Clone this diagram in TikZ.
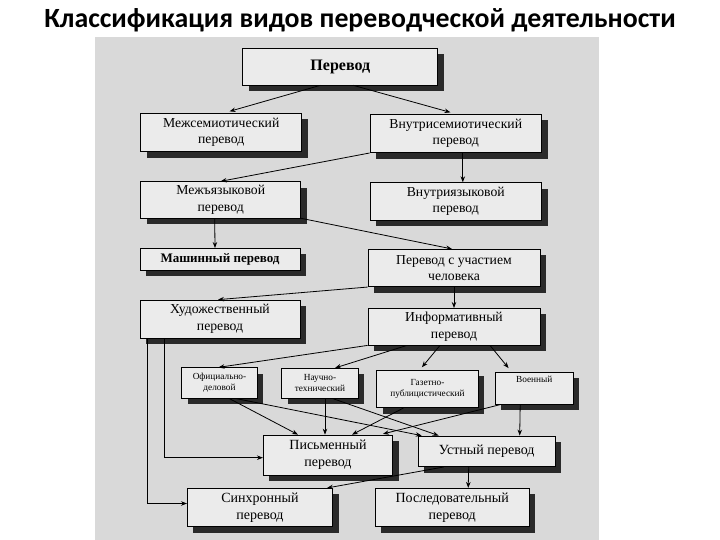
\documentclass[tikz,border=0pt]{standalone}
\usepackage{fontspec}
\setmainfont{Liberation Serif}
\newfontfamily\titlefont{Carlito}
\usetikzlibrary{shadows,arrows.meta,calc}
\definecolor{bggray}{HTML}{D9D9D9}
\definecolor{boxfill}{HTML}{EBEBEB}
\definecolor{shadowc}{HTML}{2A2A2A}
\begin{document}
\begin{tikzpicture}[x=1pt,y=-1pt,
  box/.style={draw=black, line width=0.7pt, fill=boxfill, align=center, inner sep=0pt,
    font=\fontsize{13.7}{16.5}\selectfont,
    drop shadow={shadow xshift=6pt, shadow yshift=-6pt, fill=shadowc, opacity=1}},
  smallbox/.style={box, font=\fontsize{9.3}{11}\selectfont},
  conn/.style={draw, line width=0.8pt, -{Stealth[length=6pt,width=4.5pt]}}
]
\useasboundingbox (0,0) rectangle (720,540);
\fill[bggray] (95,37) rectangle (599,540);
\node[font=\titlefont\bfseries\fontsize{27.8}{32}\selectfont] (title) at (360,20) {Классификация видов переводческой деятельности};

\node[box, minimum width=195pt, minimum height=37pt, font=\bfseries\fontsize{16}{18}\selectfont] (perevod) at (340.3,66.5) {Перевод};
\node[box, minimum width=161pt, minimum height=38.7pt] (mezhsem) at (221.2,132.3) {Межсемиотический\\перевод};
\node[box, minimum width=171.7pt, minimum height=38.7pt] (vnutrisem) at (455.8,133.3) {Внутрисемиотический\\перевод};
\node[box, minimum width=160pt, minimum height=36.3pt] (mezhyaz) at (220.7,199.8) {Межъязыковой\\перевод};
\node[box, minimum width=171.7pt, minimum height=37.3pt] (vnutriyaz) at (455.8,201.3) {Внутриязыковой\\перевод};
\node[box, minimum width=160pt, minimum height=21.7pt, font=\bfseries\fontsize{13}{14.5}\selectfont] (mashin) at (220,259.2) {Машинный перевод};
\node[box, minimum width=172pt, minimum height=37.4pt] (chelovek) at (454,268) {Перевод с участием\\человека};
\node[box, minimum width=160pt, minimum height=38pt] (hudozh) at (220,319) {Художественный\\перевод};
\node[box, minimum width=172pt, minimum height=36.7pt] (inform) at (454,326.7) {Информативный\\перевод};

\node[smallbox, minimum width=75.6pt, minimum height=30.6pt] (ofic) at (219.5,383) {Официально-\\деловой};
\node[smallbox, minimum width=76.6pt, minimum height=30pt] (nauch) at (320,383.3) {Научно-\\технический};
\node[smallbox, minimum width=101.6pt, minimum height=37.7pt] (gazet) at (427.5,388.8) {Газетно-\\публицистический};
\node[smallbox, minimum width=78.3pt, minimum height=32pt] (voen) at (534.2,388.3) {Военный\\[6pt]};

\node[box, minimum width=129.4pt, minimum height=40pt, font=\fontsize{14}{17}\selectfont] (pismen) at (328,455) {Письменный\\перевод};
\node[box, minimum width=136.7pt, minimum height=30.7pt, font=\fontsize{14}{17}\selectfont] (ustn) at (486.7,451.3) {Устный перевод};
\node[box, minimum width=145.4pt, minimum height=38.4pt, font=\fontsize{14}{17}\selectfont] (sinhr) at (260,507.5) {Синхронный\\перевод};
\node[box, minimum width=154.3pt, minimum height=38.4pt, font=\fontsize{14}{17}\selectfont] (posled) at (452.2,507.5) {Последовательный\\перевод};

% connectors
\draw[conn, shorten >=4.5pt] ([xshift=-20pt]perevod.south) -- ([xshift=4pt]mezhsem.north);
\draw[conn, shorten >=4.5pt] ([xshift=13pt]perevod.south) -- ([xshift=-1pt]vnutrisem.north);
\draw[conn] (vnutrisem.south west) -- (mezhyaz.north);
\draw[conn] ([xshift=7pt]vnutrisem.south) -- ([xshift=7pt]vnutriyaz.north);
\draw[conn] ([xshift=-6pt]mezhyaz.south) -- ([xshift=-5pt]mashin.north);
\draw[conn] (mezhyaz.south east) -- ([xshift=-2pt]chelovek.north);
\draw[conn] (chelovek.south west) -- ([xshift=-2pt]hudozh.north);
\draw[conn] (chelovek.south) -- (inform.north);
\draw[conn] (inform.south west) -- ([xshift=-1pt]ofic.north);
\draw[conn] ([xshift=-47pt]inform.south) -- ([xshift=15pt]nauch.north);
\draw[conn, shorten >=3pt] ([xshift=-14pt]inform.south) -- ([xshift=-7.5pt]gazet.north);
\draw[conn, shorten >=5pt] ([xshift=36pt]inform.south) -- ([xshift=-22.5pt]voen.north);

\draw[conn] ([xshift=10pt]ofic.south) -- ([xshift=-30pt]pismen.north);
\draw[conn] ([xshift=17pt]ofic.south) -- ([xshift=-65pt]ustn.north);
\draw[conn] ([xshift=5pt]nauch.south) -- ([xshift=-3pt]pismen.north);
\draw[conn] ([xshift=13pt]nauch.south) -- ([xshift=-48pt]ustn.north);
\draw[conn] ([xshift=-24pt]gazet.south) -- ([xshift=24pt]pismen.north);
\draw[conn, shorten >=3pt] ([xshift=-34pt]voen.south) -- ([xshift=52pt]pismen.north);
\draw[conn] ([xshift=-14pt]voen.south) -- ([xshift=33pt]ustn.north);
\draw[conn] ([xshift=-43pt]ustn.south) -- ([xshift=-6pt]sinhr.north east);
\draw[conn] ([xshift=-18pt]ustn.south) -- ([xshift=16pt]posled.north);

\draw[conn] ([xshift=-73pt]hudozh.south) |- ([yshift=4pt]sinhr.west);
\draw[conn] ([xshift=-56pt]hudozh.south) |- ([yshift=-2.7pt]pismen.west);
\end{tikzpicture}
\end{document}
